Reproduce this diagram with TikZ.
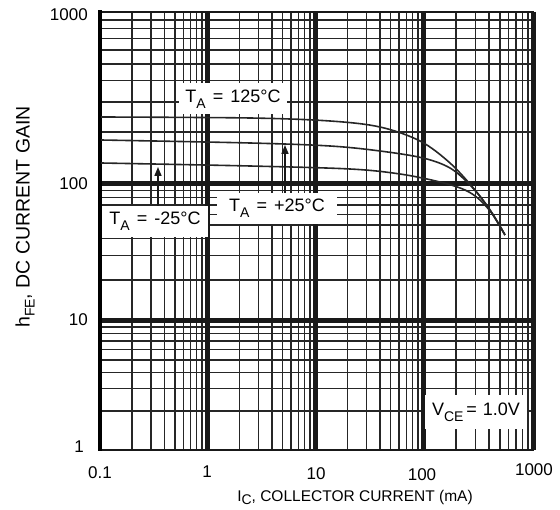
\documentclass[tikz,border=0pt]{standalone}
\usepackage{fontspec}
\setmainfont{Liberation Sans}
\usetikzlibrary{arrows.meta}
\newcommand\sbs[2][6]{\raisebox{-#1pt}{\fontsize{14}{14}\selectfont #2}}
\newcommand\eqg{\hspace{7pt}=\hspace{7pt}}
\begin{document}
\begin{tikzpicture}[x=1pt,y=-1pt,
  minor/.style={line width=1.5pt, black!85},
  major/.style={line width=5pt, black!90},
  frame/.style={line width=2.5pt, black!90},
  curve/.style={line width=1.6pt, black!85},
  lbl/.style={fill=white, inner sep=0pt, font=\fontsize{18}{20}\selectfont},
  tk/.style={font=\fontsize{17}{19}\selectfont, inner sep=0pt},
  axl/.style={font=\fontsize{15.5}{18}\selectfont, inner sep=0pt},
  up/.style={line width=1.6pt, black!90, -{Triangle[width=7pt,length=9pt]}}]
\useasboundingbox (0,0) rectangle (560,510);
% minor vertical grid lines
\foreach \a/\b in {100/207,207/315,315/423,423/533} {
  \foreach \m in {2,...,9} {
    \pgfmathsetmacro\xx{\a+(\b-\a)*log10(\m)}
    \draw[minor] (\xx,12) -- (\xx,450);
  }
}
% minor horizontal grid lines
\foreach \a/\b in {450/321,321/184,184/12} {
  \foreach \m in {2,...,9} {
    \pgfmathsetmacro\yy{\a+(\b-\a)*log10(\m)}
    \draw[minor] (100,\yy) -- (533,\yy);
  }
}
% decade lines
\foreach \xx in {207,315,423} \draw[major] (\xx,12) -- (\xx,450);
\foreach \yy in {321,184} \draw[major] (100,\yy) -- (533,\yy);
\draw[major] (533,12) -- (533,450);
\draw[frame] (100,12) rectangle (533,450);
\draw[line width=3.5pt] (100,10.5) -- (100,451.5);
% curves
\draw[curve] plot[smooth, tension=0.55] coordinates {(101,117) (250,118) (330,121) (380,127) (420,141) (450,163) (475,190) (492,213) (505,235)};
\draw[curve] plot[smooth, tension=0.55] coordinates {(101,140) (250,143) (330,146) (380,151) (423,158) (450,168) (470,185) (488,207) (505,235)};
\draw[curve] plot[smooth, tension=0.55] coordinates {(101,163) (250,166) (350,169) (400,174) (440,182) (465,190) (480,200) (493,215) (505,235)};
% labels
\node[lbl, minimum width=108pt, minimum height=31pt] (t125) at (233,99) {T\sbs{A}\eqg 125°C};
\node[lbl, minimum width=120pt, minimum height=31pt] (tp25) at (277,208.5) {T\sbs{A}\eqg +25°C};
\node[lbl, minimum width=106pt, minimum height=31pt] (tm25) at (155,221.5) {T\sbs{A}\eqg -25°C};
\node[lbl, minimum width=102pt, minimum height=34pt] (vce) at (476,412) {V\sbs{CE}\hspace{3pt}=\hspace{6pt}1.0V};
% arrows
\coordinate (tipm) at (158,167);
\coordinate (tipp) at (285,145);
\draw[up] (tm25.north -| tipm) -- (tipm);
\draw[up] (tp25.north -| tipp) -- (tipp);
% tick labels
\node[tk, anchor=east] (y1000) at (88,15) {1000};
\node[tk, anchor=east] (y100) at (88,184) {100};
\node[tk, anchor=east] (y10) at (88,320) {10};
\node[tk, anchor=east] (y1) at (84,447) {1};
\node[tk] (x01) at (100,473) {0.1};
\node[tk] (x1) at (207,472) {1};
\node[tk] (x10) at (316,474) {10};
\node[tk] (x100) at (422,475) {100};
\node[tk] (x1000) at (534,470) {1000};
% axis titles
\node[axl, rotate=90, font=\fontsize{19.5}{21}\selectfont] (ylab) at (25,217) {h\sbs[5]{FE}, DC CURRENT GAIN};
\node[axl, anchor=north] (xlab) at (355,490) {I\sbs[3]{C}, COLLECTOR CURRENT (mA)};
\end{tikzpicture}
\end{document}
